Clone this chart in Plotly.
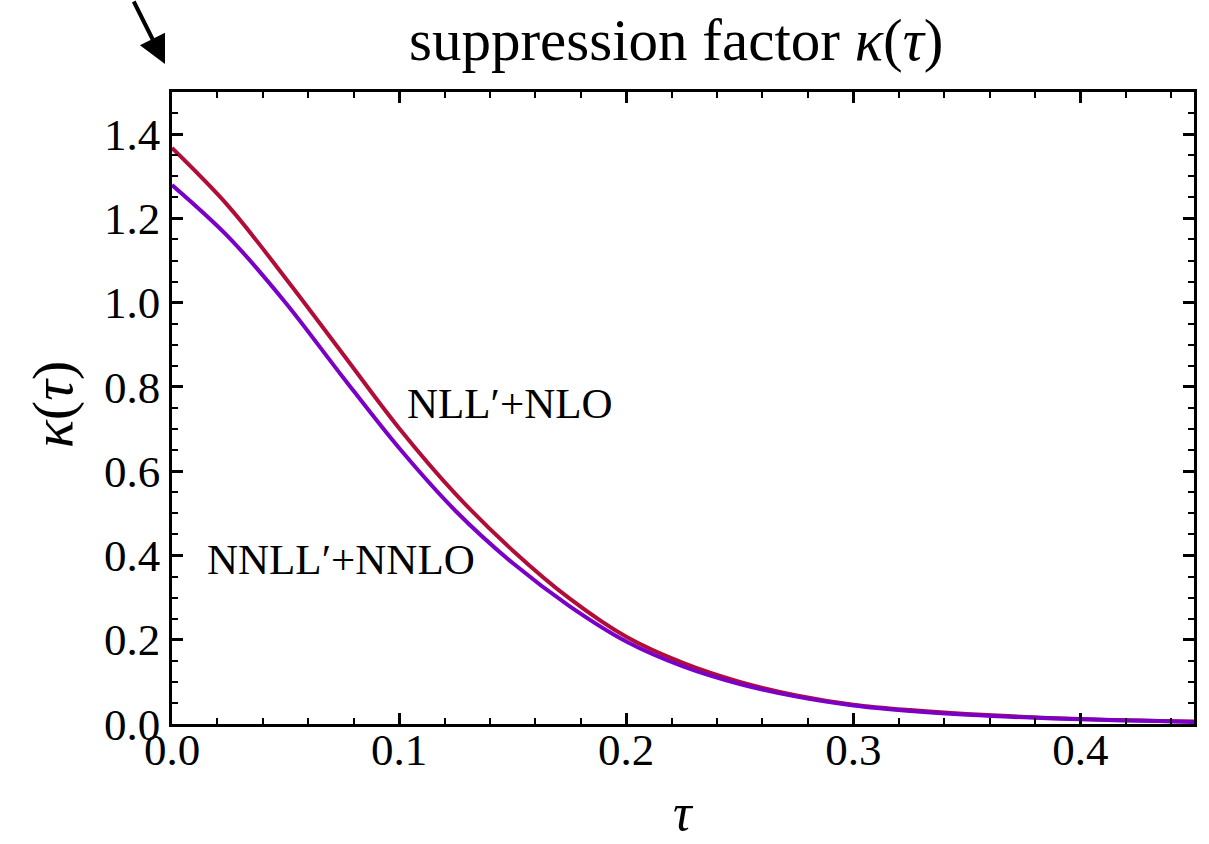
import plotly.graph_objects as go

tau = [0.0, 0.025, 0.05, 0.075, 0.1, 0.125, 0.15, 0.175, 0.2, 0.225, 0.25, 0.275, 0.3, 0.325, 0.35, 0.4, 0.45]
kappa_nll = [1.367, 1.228, 1.058, 0.880, 0.702, 0.545, 0.412, 0.298, 0.207, 0.145, 0.100, 0.068, 0.046, 0.033, 0.024, 0.012, 0.006]
kappa_nnll = [1.279, 1.155, 1.000, 0.825, 0.655, 0.505, 0.382, 0.280, 0.196, 0.137, 0.095, 0.065, 0.044, 0.031, 0.022, 0.011, 0.005]

series_names = ["NLL′+NLO", "NNLL′+NNLO"]
series_colors = ["#B20D38", "#7A00C8"]

FONT = "Liberation Serif"

fig = go.Figure()
fig.add_trace(go.Scatter(x=tau, y=kappa_nll, mode="lines", name=series_names[0],
                         line=dict(color=series_colors[0], width=4, shape="spline", smoothing=1.0)))
fig.add_trace(go.Scatter(x=tau, y=kappa_nnll, mode="lines", name=series_names[1],
                         line=dict(color=series_colors[1], width=4, shape="spline", smoothing=1.0)))

axis_common = dict(showline=True, linecolor="black", linewidth=2.5, mirror="allticks",
                   ticks="inside", ticklen=11, tickwidth=2.5, tickcolor="black",
                   showgrid=False, zeroline=False,
                   tickfont=dict(family=FONT, size=45, color="black"))

fig.update_xaxes(range=[0, 0.45], tickvals=[0, 0.1, 0.2, 0.3, 0.4],
                 ticktext=["0.0", "0.1", "0.2", "0.3", "0.4"], ticklabelstandoff=-16,
                 minor=dict(dtick=0.02, tick0=0, ticks="inside", ticklen=6, tickwidth=2, tickcolor="black"),
                 **axis_common)
fig.update_yaxes(range=[0, 1.5], tickvals=[0, 0.2, 0.4, 0.6, 0.8, 1.0, 1.2, 1.4],
                 ticktext=["0.0", "0.2", "0.4", "0.6", "0.8", "1.0", "1.2", "1.4"],
                 minor=dict(dtick=0.05, tick0=0, ticks="inside", ticklen=6, tickwidth=2, tickcolor="black"),
                 **axis_common)

fig.add_annotation(x=0.1026, y=0.76, xref="x", yref="y", text=series_names[0], showarrow=False,
                   xanchor="left", yanchor="middle", font=dict(family=FONT, size=43, color="black"))
fig.add_annotation(x=0.0145, y=0.39, xref="x", yref="y", text=series_names[1], showarrow=False,
                   xanchor="left", yanchor="middle", font=dict(family=FONT, size=43, color="black"))

# title
fig.add_annotation(x=(676 - 172) / 1022, y=1.0 + (92 - 40) / 632, xref="paper", yref="paper",
                   text="suppression factor <i>κ</i>(<i>τ</i>)", showarrow=False,
                   xanchor="center", yanchor="middle", font=dict(family=FONT, size=59, color="black"))
# axis titles
fig.add_annotation(x=-(172 - 52) / 1022, y=(724 - 405) / 632, xref="paper", yref="paper",
                   text="<i>κ</i>(<i>τ</i>)", showarrow=False, textangle=-90,
                   xanchor="center", yanchor="middle", font=dict(family=FONT, size=58, color="black"))
fig.add_annotation(x=(683 - 172) / 1022, y=-(843 - 724) / 632, xref="paper", yref="paper",
                   text="<i>τ</i>", showarrow=False,
                   xanchor="center", yanchor="bottom", font=dict(family=FONT, size=52, color="black"))
# arrow
fig.add_annotation(x=(165 - 172) / 1022, y=(724 - 64) / 632, xref="paper", yref="paper",
                   text="", showarrow=True, ax=-32, ay=-68, arrowhead=2, arrowsize=1.4,
                   arrowwidth=4, arrowcolor="black")

fig.update_layout(width=1209, height=844, showlegend=False,
                  plot_bgcolor="white", paper_bgcolor="white",
                  margin=dict(l=172, r=15, t=92, b=120))

fig.write_html("out.html")
